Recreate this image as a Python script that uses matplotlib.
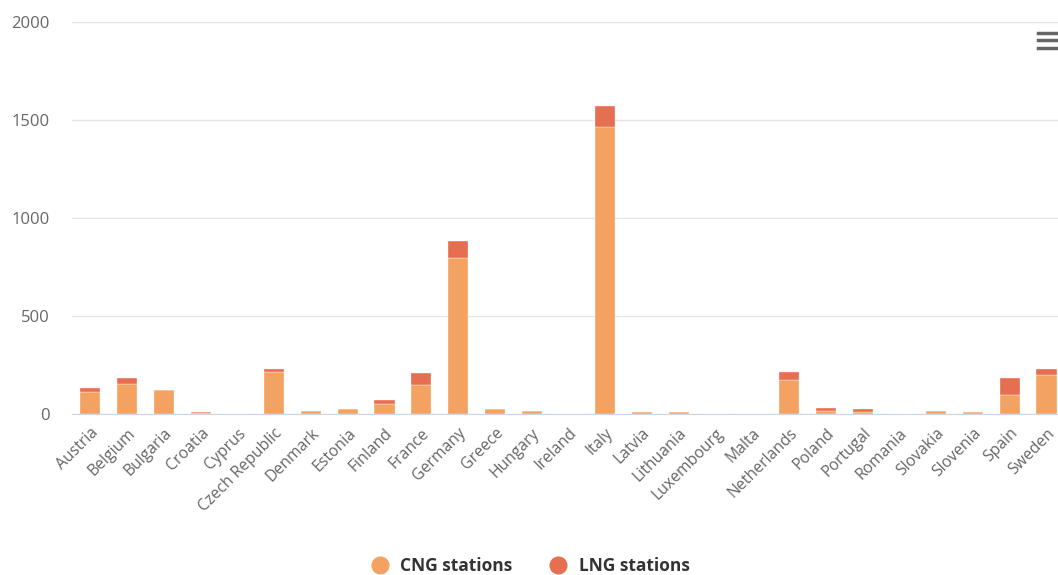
import matplotlib.pyplot as plt
import numpy as np
from matplotlib.lines import Line2D

plt.rcParams['font.family'] = ['Open Sans', 'DejaVu Sans']

# Data
countries = ['Austria', 'Belgium', 'Bulgaria', 'Croatia', 'Cyprus', 'Czech Republic',
             'Denmark', 'Estonia', 'Finland', 'France', 'Germany', 'Greece', 'Hungary',
             'Ireland', 'Italy', 'Latvia', 'Lithuania', 'Luxembourg', 'Malta',
             'Netherlands', 'Poland', 'Portugal', 'Romania', 'Slovakia', 'Slovenia',
             'Spain', 'Sweden']
cng = [114, 153, 122, 4, 0, 214, 15, 24, 53, 146, 796, 24, 15, 0, 1464, 8, 8,
       0, 0, 175, 15, 9, 0, 17, 10, 99, 199]
lng = [17, 31, 0, 7, 0, 16, 0, 0, 17, 62, 87, 0, 0, 0, 107, 0, 0,
       0, 0, 39, 16, 15, 0, 0, 0, 85, 31]

cng_color = '#f4a261'
lng_color = '#e76f51'

fig = plt.figure(figsize=(10.58, 5.75), dpi=100)
ax = fig.add_axes([0.068, 0.28, 0.9386, 0.6817])

x = np.arange(len(countries))
ax.bar(x, cng, width=0.55, color=cng_color, edgecolor='white', linewidth=0.25, zorder=3)
ax.bar(x, lng, width=0.55, bottom=cng, color=lng_color, edgecolor='white', linewidth=0.25, zorder=3)

# --- Axes formatting ---
ax.set_xlim(-0.5, len(countries) - 0.5)
ax.set_ylim(0, 2000)
ax.set_yticks([0, 500, 1000, 1500, 2000])
ax.yaxis.grid(True, color='#e6e6e6', linewidth=1, zorder=0)
ax.set_axisbelow(True)
for side in ['top', 'right', 'left']:
    ax.spines[side].set_visible(False)
ax.spines['bottom'].set_color('#ccd6eb')
ax.spines['bottom'].set_zorder(2)

ax.set_xticks(x)
ax.set_xticklabels(countries, rotation=45, ha='right', rotation_mode='anchor')
ax.tick_params(axis='x', length=0, pad=8, labelsize=11.3, labelcolor='#666666')
ax.tick_params(axis='y', length=0, pad=16, labelsize=12, labelcolor='#666666')

# --- Legend at bottom ---
handles = [
    Line2D([], [], marker='o', linestyle='', markersize=12, color=cng_color),
    Line2D([], [], marker='o', linestyle='', markersize=12, color=lng_color),
]
fig.legend(handles, ['CNG stations', 'LNG stations'], loc='center',
           bbox_to_anchor=(0.497, 0.016), ncol=2, frameon=False,
           prop={'weight': 'bold', 'size': 12.5}, labelcolor='#333333',
           handletextpad=0.2, columnspacing=1.6)

# --- Menu icon in the corner ---
for yy in [0.943, 0.930, 0.917]:
    fig.add_artist(Line2D([0.981, 0.999], [yy, yy], color='#666666',
                          linewidth=2.5, transform=fig.transFigure))

fig.savefig('out.png', dpi=100)
